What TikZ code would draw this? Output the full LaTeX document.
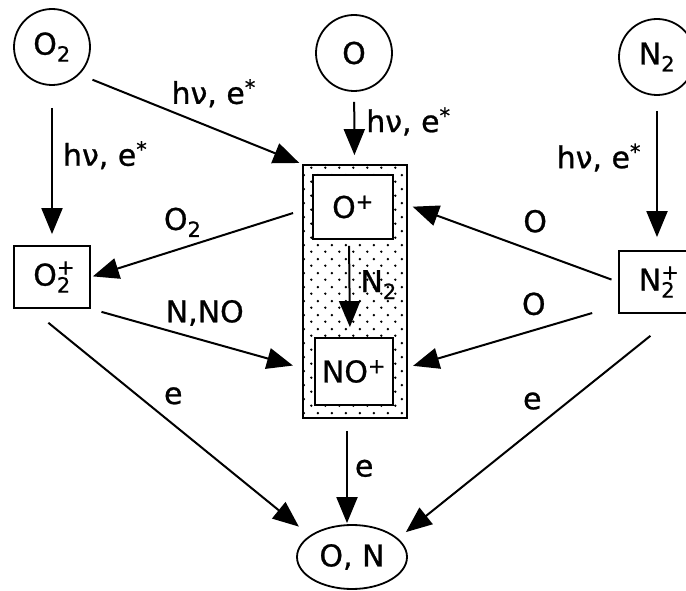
\documentclass[tikz,border=0pt]{standalone}
\usepackage{fontspec}
\setmainfont{DejaVu Sans}[FakeBold=0.8]
\usetikzlibrary{shapes.geometric, arrows.meta, patterns.meta}
\tikzdeclarepattern{
        name=speckle,
        bounding box={(0pt,0pt) and (14pt,14pt)},
        tile size={(14pt,14pt)},
        code={\fill (3.5pt,3.5pt) circle (1.4pt); \fill (10.5pt,10.5pt) circle (1.4pt);}
}
\tikzset{
        species/.style = {draw, circle, line width=1.8pt,
            minimum size=76pt, inner sep=0pt},
        ion/.style = {draw, rectangle, fill=white, line width=1.8pt,
            inner sep=0pt},
        group/.style = {draw, rectangle, line width=1.8pt, pattern=speckle},
        product/.style = {draw, ellipse, line width=1.8pt, inner sep=0pt},
        arrow/.style = {draw, -{Triangle[length=26pt,width=21pt]}, line width=2pt},
        rate/.style = {inner sep=2pt},
}
\newcommand{\chem}[3]{#1\rlap{\raisebox{2pt}{\textsuperscript{#3}}}\textsubscript{#2}}
\newcommand{\excited}{hν, e\textsuperscript{*}}

\begin{document}
\begin{tikzpicture}[x=1pt, y=-1pt, font=\fontsize{30}{36}\selectfont]
\useasboundingbox (0,0) rectangle (686,591);
\node [group, minimum width=104pt, minimum height=253pt] (blk) at (355,291.5) {};
\node [species] (O2) at (52,47) {O\textsubscript{2}};
\node [species] (O) at (354,53) {O};
\node [species] (N2) at (657,57) {N\textsubscript{2}};
\node [ion, minimum width=76pt, minimum height=62pt] (O2p) at (52,277) {\chem{O}{2}{+}};
\node [ion, minimum width=80pt, minimum height=64pt] (Op) at (353,207) {O\textsuperscript{+}};
\node [ion, minimum width=78pt, minimum height=67pt] (NOp) at (354,371.5) {NO\textsuperscript{+}};
\node [ion, minimum width=76pt, minimum height=62pt] (N2p) at (657,282) {\chem{N}{2}{+}};
\node [product, minimum width=110pt, minimum height=64pt] (ON) at (352,557) {O, N};
\draw [arrow, shorten <=22pt, shorten >=11pt] (O2) -- node[rate, right=8pt, pos=.435] {\excited} (O2p);
\draw [arrow, shorten <=14pt, shorten >=3pt] (O2.-45) -- node[rate, anchor=south west, pos=.40] {\excited} (blk.north west);
\draw [arrow, shorten <=10pt, shorten >=9pt] (O) -- node[rate, right=9pt, pos=.41] {\excited} (blk);
\draw [arrow, shorten <=15pt, shorten >=13pt] (N2) -- node[rate, left=13pt, pos=.40] {\excited} (N2p);
\draw [arrow, shorten <=6pt, shorten >=10pt] ([xshift=-4pt]Op.south) -- node[rate, right=8pt, pos=.46] {N\textsubscript{2}} ([xshift=-4pt]NOp.north);
\draw [arrow, shorten <=7pt, shorten >=20pt] (N2p.west) -- node[rate, above=16pt, pos=.37] {O} (Op.10);
\draw [arrow, shorten <=27pt, shorten >=20pt] (N2p.211) -- node[rate, above=12pt, pos=.376] {O} (NOp.east);
\draw [arrow, shorten <=20pt, shorten >=2pt] (Op.west) -- node[rate, above=8pt, pos=.585] {O\textsubscript{2}} (O2p.east);
\draw [arrow, shorten <=11pt, shorten >=22pt] (O2p.south east) -- node[rate, above=12pt, pos=.51] {N,NO} (NOp.west);
\draw [arrow, shorten <=22pt, shorten >=14pt] (O2p.237) -- node[rate, above=17pt, pos=.51] {e} (ON.153);
\draw [arrow, shorten <=12pt, shorten >=1pt] ([xshift=-5pt]ON.north |- blk.south) -- node[rate, right=5pt, pos=.47] {e} ([xshift=-5pt]ON.north);
\draw [arrow, shorten <=35pt, shorten >=10pt] (N2p.303) -- node[rate, above=18pt, pos=.52] {e} (ON.22);
\end{tikzpicture}
\end{document}
